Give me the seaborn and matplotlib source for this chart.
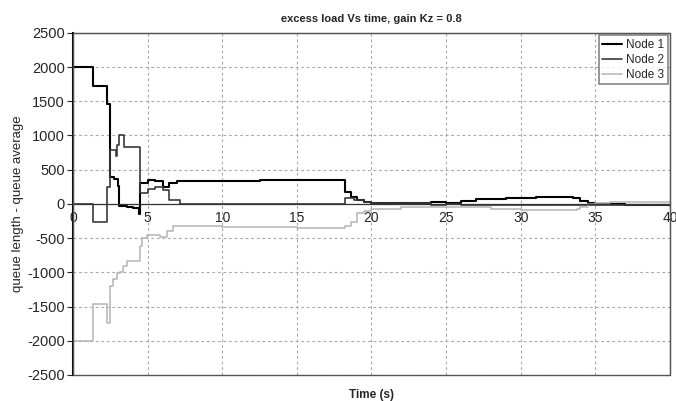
import matplotlib
matplotlib.use("Agg")
import matplotlib.pyplot as plt
from matplotlib.patches import Rectangle
import seaborn as sns
import pandas as pd

# ---- data (step series) ----
node1_t = [0, 1.35, 2.26, 2.5, 2.75, 3.0, 3.1, 3.6, 4.0, 4.4, 4.5, 5.0, 5.5, 6.0, 6.4, 7.0, 10, 12.5, 15, 17, 18.25,
           18.6, 19.0, 19.5, 20, 22, 24, 25, 26, 27, 29, 31, 33.5, 34, 34.5, 35, 37, 40]
node1_v = [2000, 1730, 1460, 400, 360, 260, -30, -40, -60, -150, 300, 350, 330, 250, 310, 330, 335, 345, 350, 355, 180,
           100, 60, 30, 15, 10, 30, 20, 40, 70, 90, 100, 90, 40, 20, 0, -15, -20]

node2_t = [0, 1.35, 2.26, 2.5, 2.85, 2.95, 3.1, 3.4, 4.5, 5.0, 5.5, 6.0, 6.4, 7.2, 18.25, 18.8, 19.5, 20, 24, 25, 26,
           30, 33.5, 35, 40]
node2_v = [0, -270, 250, 790, 700, 860, 1000, 830, 160, 220, 240, 200, 60, 0, 90, 60, 30, 15, -10, 0, -10,
           -20, -20, -10, -30]

node3_t = [0, 1.35, 2.26, 2.5, 2.7, 2.93, 3.15, 3.38, 3.6, 4.5, 4.6, 4.95, 5.84, 6.29, 6.73, 10, 15, 18.25, 18.6, 19.0,
           19.5, 20, 22, 24, 26, 28, 30, 33.8, 34, 34.5, 35, 36, 40]
node3_v = [-2000, -1470, -1735, -1200, -1100, -1010, -1000, -910, -840, -620, -500, -450, -480, -390, -330, -340, -350,
           -330, -260, -140, -100, -70, -50, -40, -50, -80, -90, -80, -40, 0, 20, 35, 35]

series_names = ["Node 1", "Node 2", "Node 3"]
x_ticks = [0, 5, 10, 15, 20, 25, 30, 35, 40]
y_ticks = [2500, 2000, 1500, 1000, 500, 0, -500, -1000, -1500, -2000, -2500]

sns.set_style("white")
plt.rcParams["font.family"] = ["Liberation Sans", "DejaVu Sans"]
plt.rcParams["axes.unicode_minus"] = False

fig = plt.figure(figsize=(6.76, 4.01), dpi=100)
ax = fig.add_axes([0.108, 0.065, 0.883, 0.853])

frames = [pd.DataFrame({"t": t, "v": v}) for t, v in
          [(node1_t, node1_v), (node2_t, node2_v), (node3_t, node3_v)]]
colors = ["#000000", "#3a3a3a", "#b4b4b4"]
widths = [1.5, 1.2, 1.1]
for df, name, c, w in zip(frames, series_names, colors, widths):
    sns.lineplot(data=df, x="t", y="v", ax=ax, color=c, linewidth=w, label=name,
                 drawstyle="steps-post", estimator=None, sort=False)

ax.set_xlim(0, 40)
ax.set_ylim(-2500, 2500)
ax.set_xticks(x_ticks)
ax.set_yticks(y_ticks)
ax.set_xticklabels([str(x) for x in x_ticks], fontsize=10.5)
ax.set_yticklabels([str(y) for y in y_ticks], fontsize=10.5)
ax.grid(True, color="#a8a8a8", linestyle=(0, (2.5, 2.5)), linewidth=0.8)

for s in ["top", "right", "left"]:
    ax.spines[s].set_visible(True)
ax.spines["top"].set_color("#555555")
ax.spines["right"].set_color("#555555")
ax.spines["left"].set_color("#000000")
ax.spines["left"].set_linewidth(1.5)
ax.spines["bottom"].set_position(("data", 0))
ax.spines["bottom"].set_color("#333333")
ax.spines["bottom"].set_linewidth(0.9)
ax.add_patch(Rectangle((0, 0), 1, 1, transform=ax.transAxes, fill=False,
                       edgecolor="#555555", linewidth=1.0, zorder=5, clip_on=False))

ax.tick_params(axis="y", left=True, length=4, width=0.8, pad=2, direction="out")
ax.tick_params(axis="x", bottom=False, length=0, pad=5)

ax.set_xlabel("Time (s)", fontsize=8.5, fontweight="bold", labelpad=2)
ax.xaxis.set_label_coords(0.5, -0.042)
ax.set_ylabel("queue length - queue average", fontsize=9.5, labelpad=2)
ax.set_title("excess load Vs time, gain Kz = 0.8", fontsize=8, fontweight="bold", pad=8)

leg = ax.legend(loc="upper right", fontsize=8.5, frameon=True, fancybox=False,
                edgecolor="#666666", borderpad=0.3, labelspacing=0.25, handlelength=1.7,
                handletextpad=0.3, borderaxespad=0.2)
leg.get_frame().set_linewidth(1.2)

fig.savefig("out.png", dpi=100)
